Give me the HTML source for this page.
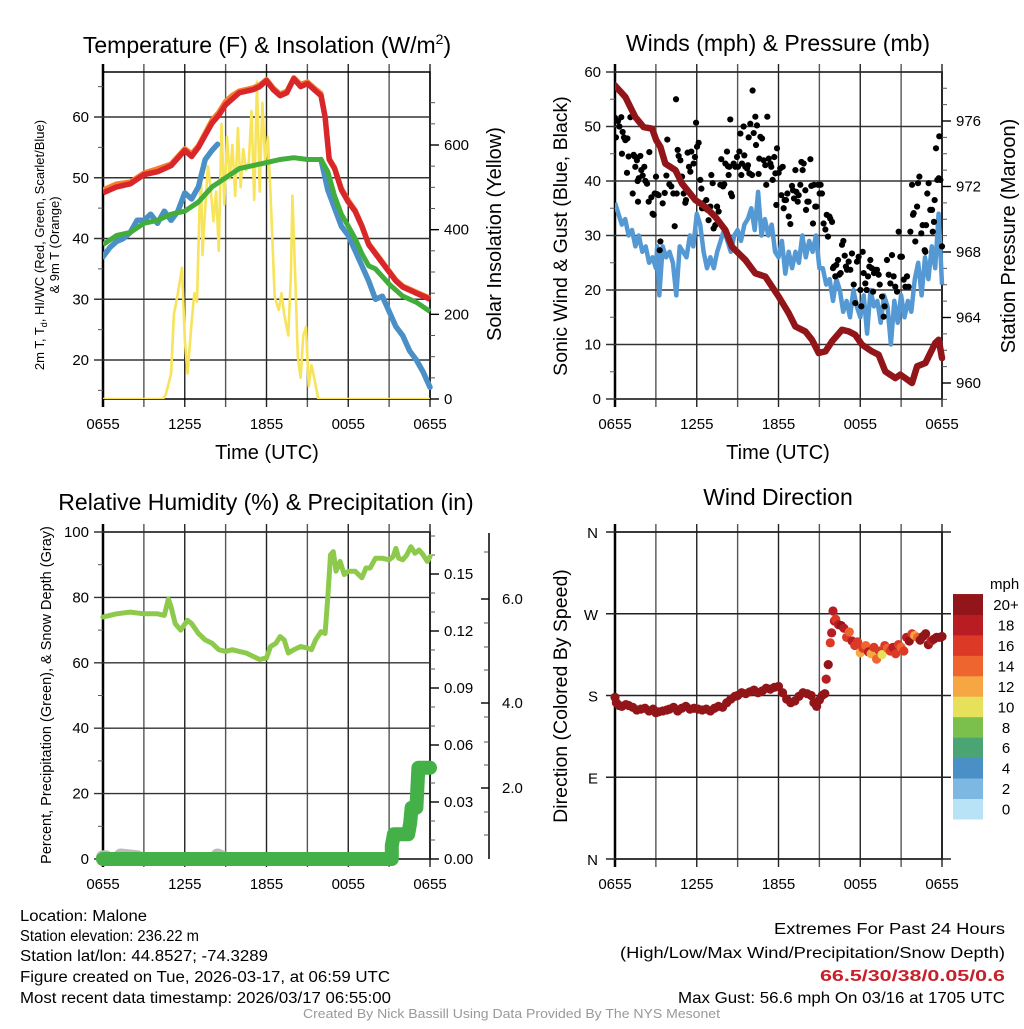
<!DOCTYPE html>
<html><head><meta charset="utf-8"><style>
body{margin:0;background:#fff;}
svg text{font-family:"Liberation Sans",sans-serif;}
</style></head><body>
<svg id="fig" width="1024" height="1024" viewBox="0 0 1024 1024" xmlns="http://www.w3.org/2000/svg">
<g id="layer"></g>
<g font-size="15.5">
<text x="20" y="921" textLength="127" lengthAdjust="spacingAndGlyphs">Location: Malone</text>
<text x="20" y="941" textLength="179" lengthAdjust="spacingAndGlyphs">Station elevation: 236.22 m</text>
<text x="20" y="961" textLength="248" lengthAdjust="spacingAndGlyphs">Station lat/lon: 44.8527; -74.3289</text>
<text x="20" y="982" textLength="370" lengthAdjust="spacingAndGlyphs">Figure created on Tue, 2026-03-17, at 06:59 UTC</text>
<text x="20" y="1003" textLength="371" lengthAdjust="spacingAndGlyphs">Most recent data timestamp: 2026/03/17 06:55:00</text>
<text x="774" y="934" textLength="231" lengthAdjust="spacingAndGlyphs" font-size="16">Extremes For Past 24 Hours</text>
<text x="620" y="958" textLength="385" lengthAdjust="spacingAndGlyphs" font-size="16">(High/Low/Max Wind/Precipitation/Snow Depth)</text>
<text x="820" y="981" textLength="185" lengthAdjust="spacingAndGlyphs" font-size="16" font-weight="bold" fill="#c8202a">66.5/30/38/0.05/0.6</text>
<text x="678" y="1003" textLength="327" lengthAdjust="spacingAndGlyphs" font-size="16">Max Gust: 56.6 mph On 03/16 at 1705 UTC</text>
<text x="303" y="1018" textLength="417" lengthAdjust="spacingAndGlyphs" font-size="12.5" fill="#999">Created By Nick Bassill Using Data Provided By The NYS Mesonet</text>
</g>
</svg>
<script>
// ---------- DATA ----------
const xTickLabels=["0655","1255","1855","0055","0655"];
// Temperature panel (hours since 0655)
const tempHours=[0,1,2,3,4,5,6,6.5,7,7.5,8,8.5,9,9.5,10,11,11.5,12,12.5,13,13.5,14,14.5,15,15.5,16,16.3,16.6,17,17.5,18,18.5,19,19.5,20,20.5,21,21.5,22,22.5,23,23.5,24];
const tempVals=[47.5,48.5,49,50.5,51,52,54.5,53.5,55,57,59,60.3,62,63,64,64.5,65,66,64.5,63.5,64,66.3,65,65.5,64.5,63.5,60,53,51.5,48,46,44.5,42,39,37.5,36,34.5,33,32,31.5,31,30.5,30];
const temp9mVals=[48,49,49.3,50.8,51.5,52.3,54.8,54,55.3,57.4,59.5,60.8,62.6,63.6,64.3,64.8,65.3,66.2,64.8,63.8,64.3,66.5,65.4,65.8,64.8,63.9,60.2,53.2,51.7,48.3,46.3,44.7,42.2,39.2,37.7,36.2,34.7,33.2,32.2,31.7,31.2,30.7,30.2];
const dewHours=[0,1,2,3,4,5,6,7,8,9,10,11,12,13,14,15,16,16.5,17,17.5,18,18.5,19,19.5,20,21,21.5,22,23,24];
const dewVals=[39,40.5,41,42.5,43,44,44.5,46,48.5,50,51.5,52,52.5,53,53.3,53,53,51,47,44,42,40,37.5,35.5,35,32.5,31.5,30.5,29.5,28];
const wcHours=[0,0.5,1,1.5,2,2.5,3,3.5,4,4.5,5,5.5,6,6.5,7,7.5,8,8.4,null,16,16.5,17,17.5,18,18.5,19,19.5,20,20.5,21,21.5,22,22.5,23,23.5,24];
const wcVals=[37,38.5,39.5,40,41,43,43,44,42.5,44.5,43,44.5,47.5,46.5,48.5,53,54.5,55.5,null,53,48,45,42,40.5,38,35.5,33,30,30.5,28,25.5,24,21.5,20,18,15.5];
const solarHours=[0,4.4,4.6,5.0,5.2,5.5,5.8,6.0,6.2,6.5,6.7,6.9,7.1,7.2,7.3,7.5,7.7,7.9,8.1,8.3,8.5,8.7,8.9,9.1,9.3,9.5,9.7,9.9,10.1,10.3,10.5,10.7,10.9,11.1,11.3,11.5,11.7,11.9,12.1,12.3,12.6,12.9,13.1,13.3,13.6,13.8,13.9,14.1,14.3,14.5,14.7,14.9,15.1,15.3,15.5,15.8,24];
const solarVals=[0,0,10,60,200,250,310,140,60,180,250,230,470,520,340,450,550,500,420,490,350,650,460,620,520,600,480,640,500,590,540,560,680,470,750,490,700,560,620,480,240,210,250,200,150,300,480,300,100,50,150,170,30,80,50,0,0];
// Winds panel
const windHours=[0,0.25,0.5,0.75,1,1.25,1.5,1.75,2,2.25,2.5,2.75,3,3.1,3.25,3.5,3.75,4,4.25,4.5,4.75,5,5.25,5.5,5.75,6,6.25,6.5,6.75,7,7.25,7.5,7.75,8,8.25,8.5,8.75,9,9.25,9.5,9.75,10,10.25,10.5,10.75,11,11.25,11.5,11.75,12,12.25,12.5,12.75,13,13.25,13.5,13.75,14,14.25,14.5,14.75,15,15.25,15.5,15.75,16,16.25,16.5,16.75,17,17.25,17.5,17.75,18,18.25,18.5,18.75,19,19.25,19.5,19.75,20,20.25,20.5,20.75,21,21.25,21.5,21.75,22,22.25,22.5,22.75,23,23.25,23.5,23.75,24];
const windVals=[36,34,32,33,30,31,28,30,27,28,25,26,24,28,19,28,26,27,25,19,28,27,26,30,28,34,32,27,24,26,24,27,29,31,29,27,30,31,29,32,33,35,31,38,30,33,30,32,27,26,29,23,27,24,27,25,30,26,29,27,30,24,24,21,22,18,22,20,16,18,15,20,17,15,19,12,20,17,18,14,19,17,10,18,14,19,15,18,16,22,25,19,26,22,28,24,34,21];
const gustHours=[0,0.07,0.22,0.32,0.46,0.56,0.66,0.76,0.91,0.51,0.88,1.0,1.13,1.37,1.30,1.44,1.49,1.61,1.66,1.74,1.86,1.69,1.93,2.03,2.15,2.23,2.35,2.47,2.52,2.67,2.76,2.84,2.91,3.01,3.08,3.2,3.28,3.33,3.5,3.65,3.77,3.84,3.99,4.13,4.28,4.38,4.48,4.53,4.6,4.67,4.8,4.92,5.04,5.16,5.21,5.33,5.43,5.53,5.6,5.77,5.87,5.95,6.02,6.14,6.26,6.34,6.39,6.46,6.58,6.7,6.8,6.87,7.0,7.07,7.17,7.24,7.36,7.49,7.61,7.73,7.8,7.93,8.02,8.1,8.22,8.29,8.34,8.39,8.46,8.51,8.59,8.71,8.83,8.95,9.03,9.13,9.2,9.27,9.32,9.44,9.49,9.57,9.69,9.76,9.81,9.86,9.93,10.06,10.1,10.18,10.3,10.35,10.42,10.54,10.59,10.67,10.79,10.91,11.03,11.1,11.18,11.28,11.4,11.47,11.57,11.69,11.77,11.89,11.84,12.01,12.13,12.21,12.31,12.38,12.45,12.55,12.65,12.75,12.87,12.99,13.06,13.14,13.24,13.31,13.41,13.48,13.6,13.68,13.77,13.85,13.97,14.02,14.12,14.21,14.34,14.41,14.53,14.61,14.7,14.78,14.9,15.02,15.09,15.19,15.31,15.44,15.54,15.63,15.73,15.8,15.93,16.0,16.07,16.17,16.24,16.37,16.46,16.56,16.66,16.76,16.86,16.95,17.03,17.15,17.27,17.39,17.52,17.64,17.76,17.88,18.01,18.08,18.18,18.25,18.37,18.47,18.57,18.67,18.74,18.84,18.94,19.01,19.11,19.23,19.35,19.43,19.6,19.72,19.79,19.96,20.09,20.21,20.33,20.45,20.57,20.7,20.82,20.94,21.06,21.19,21.31,21.43,21.55,21.68,21.8,21.87,21.92,22.04,22.17,22.24,22.34,22.48,22.58,22.73,22.78,22.83,22.92,23.02,23.14,23.27,23.32,23.41,23.46,23.56,23.66,23.76,23.8,23.88,24.0];
const gustVals=[51.6,48,51,50,51.7,49,48,47.5,47.8,45,41.5,44.5,51.7,44.8,37.7,44.5,42.6,43.8,40,40.5,44.6,36.2,42,41,42.6,40,39.5,36.2,45.3,37,34,33.8,37.7,40.8,37.6,37.4,27.3,28.9,35.9,37.8,41,47.6,39.4,39,37.7,31.7,55,37.7,45.7,44.6,43.8,40.8,37.7,36,36.5,45.2,42.6,41.7,45.4,43.2,44.4,50.7,46.3,47,40.2,38.6,35,35.9,35,36.5,34.7,32.8,35.3,41.1,39.6,31.3,31.9,35.3,34.4,39.3,44,39,39.4,43.2,45.4,42.7,41.1,42.6,51.3,37.7,37.2,43.2,42.6,44.4,42.6,45.4,48.7,41.1,43.2,50,44.7,42.6,42.3,42.9,48,41.4,50.5,41.1,56.6,48.8,51.8,46.6,50.2,41.3,44.1,48.1,47.8,43.8,42.9,39.3,51.8,44.1,43.2,42.6,40.2,44.4,41.4,46,35.6,41.5,42.3,37.4,42.6,35,36.5,36.5,37.7,33.5,32.1,39.1,38.3,36.8,42,38,36.2,37.4,39.3,43.5,42,43.2,38.3,34.7,36.2,36.2,44,39.1,32.2,39.3,35.3,35.3,39.3,37.7,39.3,37.7,32.2,31.1,33.8,29.8,33.5,33.1,32.5,24,24.3,22.5,24.6,25.5,22.8,23.1,28.3,29,26.3,24.3,23.7,25.2,23.7,26.7,21,17.6,25.2,26.1,20,17,27,23.1,21.2,20,22.5,24.3,25.5,24,19.7,23.1,23.7,23.7,22.8,21,18.8,15.1,17,25.5,22.8,21.2,26.4,22.5,20.6,19.7,30.7,26.1,26.1,21.9,20.6,22.5,20.6,30.7,39.3,33.8,34.1,28.9,35.3,39.6,40.8,30.4,31.9,27.3,27,31.9,37.7,39.6,34.7,34.7,30.7,32.5,36.5,46,40.2,40.5,48.2,40.2,28];
const presHours=[0,0.76,1.49,2.10,2.72,3.03,3.33,3.69,4.43,4.92,5.90,6.63,7.36,8.10,8.59,9.57,10.30,11.03,12.01,12.75,13.24,13.97,14.46,14.95,15.44,15.93,16.66,17.15,17.64,18.13,18.86,19.35,19.84,20.57,20.94,21.31,21.80,22.17,22.78,23.51,23.76,24.0];
const presVals=[978.17,977.46,976.24,975.63,975.53,974.82,974.42,973.40,973.00,972.18,971.17,970.76,970.15,969.34,968.32,967.51,966.70,966.50,965.28,964.26,963.45,963.15,962.64,961.83,961.93,962.54,963.25,963.15,962.94,962.34,961.93,961.73,960.71,960.30,960.51,960.30,960.00,961.02,961.22,962.44,962.64,961.52];
// RH panel
const rhHours=[0,0.5,1,2,3,4,4.5,4.8,5,5.3,5.7,6.2,6.5,7,7.5,8,8.5,9,9.5,10,10.5,11,11.5,12,12.3,12.7,13,13.3,13.6,14,14.5,15,15.3,15.6,16,16.3,16.5,16.7,16.9,17.1,17.4,17.7,18,18.5,19,19.3,19.6,20,20.5,21,21.3,21.5,21.7,22,22.3,22.6,22.9,23.2,23.5,23.8,24];
const rhVals=[74,74.5,75,75.5,75,75,74.5,79.5,77,72,70,73,72,69,67,66,64,63.5,64,63.5,63,62,61,61.5,65,66,68,67,63,64,65,64.5,64,67,69.5,69,80,93,94,88,91,87,88,88,86,89,89,92,92,91.5,92.5,95,92,91.5,93,95.5,93.5,94.5,93,91,92.5];
const precipHours=[0,21.2,21.2,21.35,22.4,22.55,22.65,23.0,23.15,24.0];
const precipVals=[0,0,0.007,0.013,0.013,0.019,0.027,0.027,0.048,0.048];
const snowHours=[0,0.2,null,1.3,2.5,null,8.4,8.7];
const snowVals=[0.05,0.05,null,0.1,0.05,null,0.1,0.05];
// Wind direction panel
const dirHours=[0,0.1,0.3,0.5,0.8,1,1.3,1.6,1.9,2.2,2.5,2.8,3,3.2,3.5,3.8,4,4.3,4.6,4.9,5.2,5.5,5.8,6.1,6.4,6.7,7,7.3,7.6,7.9,8.2,8.5,8.8,9,9.3,9.6,9.9,10.2,10.5,10.8,11.1,11.4,11.7,12,12.3,12.6,12.9,13.2,13.5,13.8,14.1,14.4,14.6,14.8,15,15.2,15.4,15.5,15.65,15.8,15.9,16,16.1,16.2,16.4,16.6,16.8,17,17.2,17.4,17.6,17.8,18,18.2,18.4,18.6,18.8,19,19.2,19.4,19.6,19.8,20,20.2,20.4,20.6,20.8,21,21.2,21.4,21.6,21.8,22,22.2,22.4,22.6,22.8,23,23.2,23.4,23.6,23.8,24];
const dirVals=[178,172,169,168,170,169,167,164,165,166,163,165,161,162,163,164,165,167,163,166,168,165,166,165,164,165,163,166,168,167,172,176,179,180,183,182,184,186,183,185,188,187,189,190,183,176,172,174,179,183,182,180,172,168,175,180,182,198,214,238,249,273,262,264,258,257,254,244,250,240,235,239,227,232,235,228,226,233,220,229,225,235,232,229,233,226,236,233,229,244,240,248,246,244,241,245,248,236,240,242,244,244,245];
const dirSpeeds=[22,22,22,22,22,22,22,22,22,22,22,22,22,22,22,22,22,22,22,22,22,22,22,22,22,22,22,22,22,22,22,22,22,22,22,22,22,22,22,22,22,22,22,22,22,22,22,22,22,22,22,22,22,22,22,22,22,
 18,22,17,18,19,18,17,19,21,18,17,14,18,16,17,12,17,14,18,12,17,14,16,10,17,14,16,18,17,16,14,16,18,20,16,12,14,22,20,21,20,18,20,22,21,20];
const speedColors=["#b8e2f6","#7db8e2","#4a8fc6","#4aa473","#7bbf4c","#e6e05a","#f6a744","#ef6530","#dc3a27","#b81d24","#921519"];
const speedLabels=["0","2","4","6","8","10","12","14","16","18","20+"];

// ---------- DRAW ----------
const NS="http://www.w3.org/2000/svg";
const layer=document.getElementById('layer');
function mk(tag,attrs,parent){const e=document.createElementNS(NS,tag);for(const k in attrs)e.setAttribute(k,attrs[k]);(parent||layer).appendChild(e);return e;}
function txt(s,attrs,parent){const e=mk('text',attrs,parent);e.textContent=s;return e;}
function lin(d0,d1,r0,r1){return v=>r0+(v-d0)/(d1-d0)*(r1-r0);}
function pathFrom(xs,ys,fx,fy){let d="",pen=false;for(let i=0;i<xs.length;i++){if(xs[i]===null||ys[i]===null||ys[i]===undefined){pen=false;continue;}d+=(pen?"L":"M")+fx(xs[i]).toFixed(1)+","+fy(ys[i]).toFixed(1);pen=true;}return d;}

function frame(g,x0,x1,y0,y1){
  const fx=lin(0,24,x0,x1);
  for(let h=0;h<=24;h+=3){const gl=mk('line',{x1:fx(h),x2:fx(h),y1:y0-8,y2:y1+8,stroke:(h%6===0)?'#222':'#555','stroke-width':1.4},g);}
  xTickLabels.forEach((l,i)=>{const t=txt(l,{x:fx(i*6),y:y1+30,'font-size':15,'text-anchor':'middle'},g);});
  mk('rect',{x:x0,y:y0,width:x1-x0,height:y1-y0,fill:'none',stroke:'#000','stroke-width':1.5},g);
  mk('line',{x1:x0,x2:x0,y1:y0-8,y2:y1+8,stroke:'#000','stroke-width':2.5},g);
  return fx;
}
function yAxis(g,x0,x1,fy,majors,labels,minors,side){
  majors.forEach((v,i)=>{
    if(side==='left'){const gl=mk('line',{x1:x0-9,x2:x1,y1:fy(v),y2:fy(v),stroke:'#333','stroke-width':1.4},g);
      const t=txt(labels[i],{x:x0-14,y:fy(v)+5,'font-size':15,'text-anchor':'end'},g);}
    else{mk('line',{x1:x1,x2:x1+9,y1:fy(v),y2:fy(v),stroke:'#000','stroke-width':1.4},g);
      const t=txt(labels[i],{x:x1+14,y:fy(v)+5,'font-size':15},g);}
  });
  minors.forEach(v=>{if(side==='left')mk('line',{x1:x0-5,x2:x0,y1:fy(v),y2:fy(v),stroke:'#555','stroke-width':1},g);else mk('line',{x1:x1,x2:x1+5,y1:fy(v),y2:fy(v),stroke:'#555','stroke-width':1},g);});
}
function rotLabel(g,s,x,y,size,name){const t=txt(s,{x:x,y:y,'font-size':size,'text-anchor':'middle',transform:`rotate(-90 ${x} ${y})`},g);return t;}
function title(s,x,y,name){const t=txt(s,{x:x,y:y,'font-size':23,'text-anchor':'middle'});return t;}

// Panel 1: temperature
(function(){
 const g=mk('g',{});
 const x0=103,x1=430,y0=72,y1=399;
 const fy=lin(20,60,360,117);const fs=lin(0,600,399,145);
 const fx=frame(g,x0,x1,y0,y1);
 yAxis(g,x0,x1,fy,[20,30,40,50,60],["20","30","40","50","60"],[15,25,35,45,55,65],'left');
 yAxis(g,x0,x1,fs,[0,200,400,600],["0","200","400","600"],[50,100,150,250,300,350,450,500,550,650,700],'right');
 const clip=mk('clipPath',{id:'c1'},g);mk('rect',{x:x0,y:y0-6,width:x1-x0+4,height:y1-y0+6},clip);
 const pg=mk('g',{'clip-path':'url(#c1)'},g);
 const sy=mk('path',{d:pathFrom(solarHours,solarVals,fx,fs),fill:'none',stroke:'#f7e45a','stroke-width':2.6,'stroke-linejoin':'round'},pg);
 const lb=mk('path',{d:pathFrom(wcHours,wcVals,fx,fy),fill:'none',stroke:'#4a8fc6','stroke-width':5.5,'stroke-linejoin':'round','stroke-linecap':'round'},pg);
 const lg=mk('path',{d:pathFrom(dewHours,dewVals,fx,fy),fill:'none',stroke:'#43ad3c','stroke-width':5,'stroke-linejoin':'round'},pg);
 const lo=mk('path',{d:pathFrom(tempHours,temp9mVals,fx,fy),fill:'none',stroke:'#f57f2c','stroke-width':5,'stroke-linejoin':'round'},pg);
 const lr=mk('path',{d:pathFrom(tempHours,tempVals,fx,fy),fill:'none',stroke:'#d9262a','stroke-width':5.5,'stroke-linejoin':'round'},pg);
 const xl=txt('Time (UTC)',{x:267,y:459,'font-size':20,'text-anchor':'middle'},g);
 const t=txt('',{x:0,y:0,'font-size':13,'text-anchor':'middle',transform:'translate(44,245) rotate(-90)'},g);
 t.innerHTML='<tspan x="0" y="0">2m T, T<tspan font-size="9" dy="3">d</tspan><tspan dy="-3">, HI/WC (Red, Green, Scarlet/Blue)</tspan></tspan><tspan x="0" y="15">&amp; 9m T (Orange)</tspan>';
 rotLabel(g,'Solar Insolation (Yellow)',501,234,20,'y2-axis-title');
 const tt=title('',267,53,'temperature-title');tt.innerHTML='Temperature (F) &amp; Insolation (W/m<tspan font-size="14" dy="-9">2</tspan><tspan dy="9">)</tspan>';
})();

// Panel 2: winds
(function(){
 const g=mk('g',{});
 const x0=615,x1=942,y0=72,y1=399;
 const fy=lin(0,60,399,72);const fp=lin(960,976,383,121);
 const fx=frame(g,x0,x1,y0,y1);
 yAxis(g,x0,x1,fy,[0,10,20,30,40,50,60],["0","10","20","30","40","50","60"],[5,15,25,35,45,55],'left');
 const pm=[];for(let p=959;p<=978;p++)if(p%4)pm.push(p);
 yAxis(g,x0,x1,fp,[960,964,968,972,976],["960","964","968","972","976"],pm,'right');
 const clip=mk('clipPath',{id:'c2'},g);mk('rect',{x:x0,y:y0-4,width:x1-x0+4,height:y1-y0+4},clip);
 const pg=mk('g',{'clip-path':'url(#c2)'},g);
 const lb=mk('path',{d:pathFrom(windHours,windVals,fx,fy),fill:'none',stroke:'#5499d4','stroke-width':4.5,'stroke-linejoin':'round'},pg);
 gustHours.forEach((h,i)=>{const c=mk('circle',{cx:fx(h),cy:fy(gustVals[i]),r:3.1,fill:'#000'},pg);});
 const lp=mk('path',{d:pathFrom(presHours,presVals,fx,fp),fill:'none',stroke:'#921519','stroke-width':6.5,'stroke-linejoin':'round','stroke-linecap':'round'},pg);
 const xl=txt('Time (UTC)',{x:778,y:459,'font-size':20,'text-anchor':'middle'},g);
 rotLabel(g,'Sonic Wind & Gust (Blue, Black)',567,236,19.5,'y-axis-title');
 rotLabel(g,'Station Pressure (Maroon)',1015,236,20,'y2-axis-title');
 title('Winds (mph) & Pressure (mb)',778,51,'winds-title');
})();

// Panel 3: RH
(function(){
 const g=mk('g',{});
 const x0=103,x1=430,y0=532,y1=859;
 const fy=lin(0,100,859,532);const fpr=lin(0,0.15,859,574);const fsn=lin(0,2,859,788);
 const fx=frame(g,x0,x1,y0,y1);
 yAxis(g,x0,x1,fy,[0,20,40,60,80,100],["0","20","40","60","80","100"],[10,30,50,70,90],'left');
 yAxis(g,x0,x1,fpr,[0,0.03,0.06,0.09,0.12,0.15],["0.00","0.03","0.06","0.09","0.12","0.15"],[0.01,0.02,0.04,0.05,0.07,0.08,0.1,0.11,0.13,0.14,0.16,0.17],'right');
 mk('line',{x1:489,x2:489,y1:533,y2:859,stroke:'#000','stroke-width':1.5},g);
 [[599,"6.0"],[703,"4.0"],[788,"2.0"]].forEach(a=>{mk('line',{x1:489,x2:481,y1:a[0],y2:a[0],stroke:'#000','stroke-width':1.4},g);const t=txt(a[1],{x:502,y:a[0]+5,'font-size':15},g);});
 [552,623,647,670,717,742,765,812,835].forEach(y=>mk('line',{x1:489,x2:484,y1:y,y2:y,stroke:'#555','stroke-width':1},g));
 const ls=mk('path',{d:pathFrom(snowHours,snowVals,fx,fsn),fill:'none',stroke:'#bbb','stroke-width':14,'stroke-linecap':'round','stroke-linejoin':'round'},g);
 const lp=mk('path',{d:pathFrom(precipHours,precipVals,fx,fpr),fill:'none',stroke:'#43b147','stroke-width':14,'stroke-linecap':'round','stroke-linejoin':'round'},g);
 const lr=mk('path',{d:pathFrom(rhHours,rhVals,fx,fy),fill:'none',stroke:'#8dca4c','stroke-width':5,'stroke-linejoin':'round','stroke-linecap':'round'},g);
 rotLabel(g,'Percent, Precipitation (Green), & Snow Depth (Gray)',51,695,14.5,'y-axis-title');
 title('Relative Humidity (%) & Precipitation (in)',266,510,'humidity-title');
})();

// Panel 4: wind direction
(function(){
 const g=mk('g',{});
 const x0=615,x1=942,y0=532,y1=859;
 const fy=lin(0,360,859,532);
 const fx=frame(g,x0,x1,y0,y1);
 [0,90,180,270,360].forEach((v,i)=>{mk('line',{x1:x0-9,x2:x1+9,y1:fy(v),y2:fy(v),stroke:'#222','stroke-width':1.4},g);const t=txt(["N","E","S","W","N"][i],{x:598,y:fy(v)+6,'font-size':15,'text-anchor':'end'},g);});
 dirHours.forEach((h,i)=>{if(dirVals[i]===undefined)return;const sp=dirSpeeds[i]===undefined?22:dirSpeeds[i];const bin=Math.min(10,Math.floor(sp/2));const c=mk('circle',{cx:fx(h),cy:fy(dirVals[i]),r:4.6,fill:speedColors[bin]},g);});
 rotLabel(g,'Direction (Colored By Speed)',567,696,19.5,'y-axis-title');
 title('Wind Direction',778,505,'direction-title');
 const cb=mk('g',{},g);
 const t=txt('mph',{x:990,y:589,'font-size':15},cb);
 speedColors.forEach((c,i)=>{const yy=819-(i+1)*20.45;const r=mk('rect',{x:953,y:yy,width:30,height:20.9,fill:c},cb);const l=txt(speedLabels[i],{x:1006,y:yy+16,'font-size':15,'text-anchor':'middle'},cb);});
})();
</script>
</body></html>
